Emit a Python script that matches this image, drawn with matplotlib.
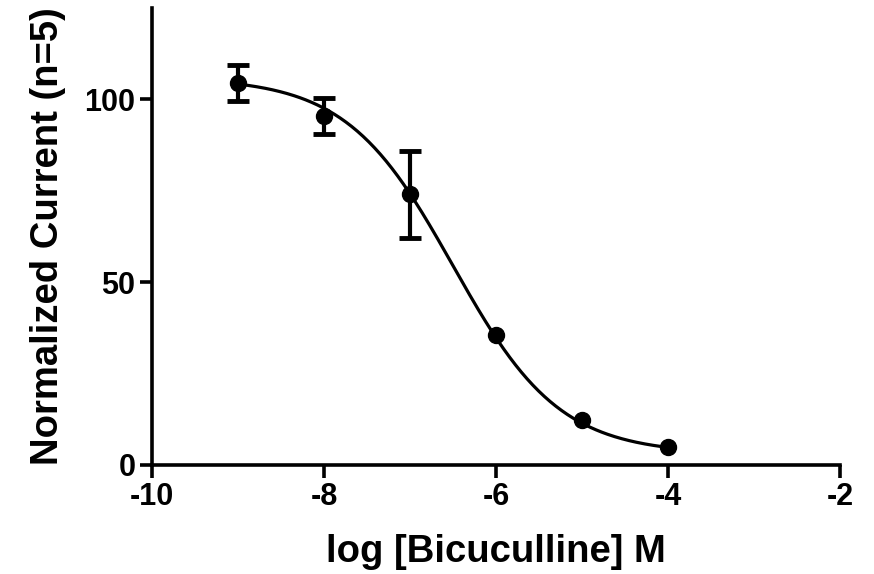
import numpy as np
import matplotlib
matplotlib.use("Agg")
import matplotlib.pyplot as plt

log_conc = [-9, -8, -7, -6, -5, -4]
current = [104.5, 95.5, 74.0, 35.5, 12.3, 4.9]
sem = [4.8, 5.0, 12.0, 0.0, 0.0, 0.0]

# fitted sigmoid (4PL) parameters
top, bottom, log_ic50, hill = 106.0, 3.0, -6.5, 0.7

xticks = [-10, -8, -6, -4, -2]
yticks = [0, 50, 100]

plt.rcParams['font.family'] = ['Liberation Sans Narrow', 'Liberation Sans', 'DejaVu Sans']
plt.rcParams['font.weight'] = 'bold'

fig = plt.figure(figsize=(8.74, 5.74), dpi=100)
ax = fig.add_axes([0.174, 0.19, 0.787, 0.796])

xf = np.linspace(min(log_conc), max(log_conc), 300)
yf = bottom + (top - bottom) / (1 + 10 ** (hill * (xf - log_ic50)))
ax.plot(xf, yf, color='black', lw=2.3, zorder=2)

ax.plot(log_conc, current, 'o', color='black', ms=11.5, zorder=4)
ex = [x for x, e in zip(log_conc, sem) if e > 0]
ey = [y for y, e in zip(current, sem) if e > 0]
ee = [e for e in sem if e > 0]
ax.errorbar(ex, ey, yerr=ee, fmt='none', ecolor='black',
            elinewidth=3, capsize=8, capthick=3.5, zorder=3)

ax.set_xlim(-10, -2)
ax.set_ylim(0, 125)
ax.set_xticks(xticks)
ax.set_yticks(yticks)
ax.set_xticklabels([str(t) for t in xticks])
ax.set_yticklabels([str(t) for t in yticks])
for s in ['top', 'right']:
    ax.spines[s].set_visible(False)
for s in ['left', 'bottom']:
    ax.spines[s].set_linewidth(2.6)
ax.tick_params(axis='both', width=2.6, length=9, labelsize=22, pad=3)
for lab in ax.get_xticklabels() + ax.get_yticklabels():
    lab.set_fontweight('bold')

ax.set_xlabel('log [Bicuculline] M', fontsize=27.5, fontweight='bold', labelpad=16)
ax.set_ylabel('Normalized Current (n=5)', fontsize=27.5, fontweight='bold', labelpad=13)

fig.savefig('out.png', dpi=100)
